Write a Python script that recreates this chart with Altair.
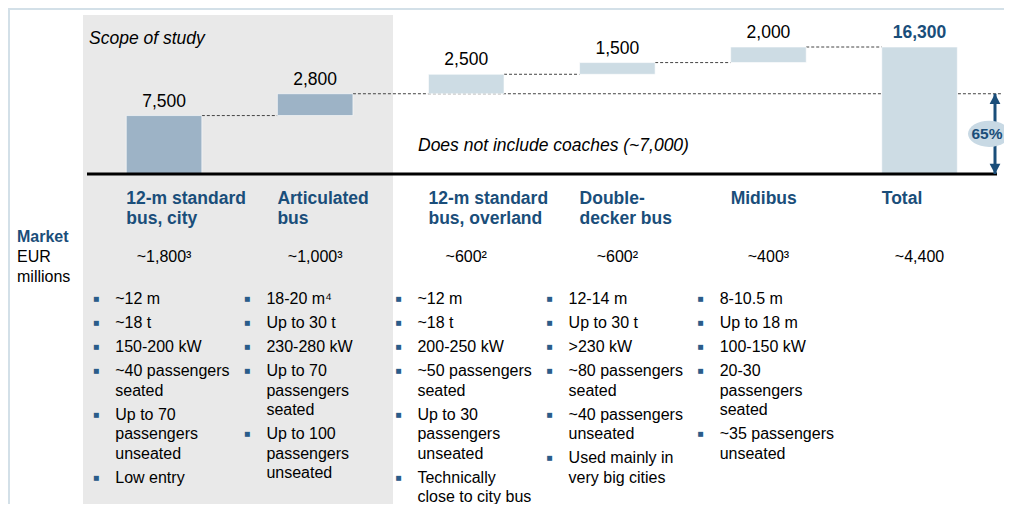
import altair as alt
import pandas as pd

# ---------------- data ----------------
categories = ["12-m standard bus, city", "Articulated bus", "12-m standard bus, overland",
              "Double-decker bus", "Midibus", "Total"]
header_lines = [["12-m standard", "bus, city"], ["Articulated", "bus"],
                ["12-m standard", "bus, overland"], ["Double-", "decker bus"],
                ["Midibus"], ["Total"]]
values = [7500, 2800, 2500, 1500, 2000, 16300]
value_labels = ["7,500", "2,800", "2,500", "1,500", "2,000", "16,300"]
in_scope = [True, True, False, False, False, False]
market_labels = ["~1,800³", "~1,000³", "~600²", "~600²", "~400³", "~4,400"]
market_title = ["Market", "EUR", "millions"]
bullets = [
    [["~12 m"], ["~18 t"], ["150-200 kW"], ["~40 passengers", "seated"],
     ["Up to 70", "passengers", "unseated"], ["Low entry"]],
    [["18-20 m⁴"], ["Up to 30 t"], ["230-280 kW"], ["Up to 70", "passengers", "seated"],
     ["Up to 100", "passengers", "unseated"]],
    [["~12 m"], ["~18 t"], ["200-250 kW"], ["~50 passengers", "seated"],
     ["Up to 30", "passengers", "unseated"], ["Technically", "close to city bus"]],
    [["12-14 m"], ["Up to 30 t"], [">230 kW"], ["~80 passengers", "seated"],
     ["~40 passengers", "unseated"], ["Used mainly in", "very big cities"]],
    [["8-10.5 m"], ["Up to 18 m"], ["100-150 kW"], ["20-30", "passengers", "seated"],
     ["~35 passengers", "unseated"]],
    [],
]
scope_note = "Scope of study"
coach_note = "Does not include coaches (~7,000)"
share_label = "65%"

# ---------------- style / layout ----------------
W, H = 996, 496
FONT = "Liberation Sans"
NAVY = "#1A4E7A"
DARK_BAR = "#9DB3C6"
LIGHT_BAR = "#CDDCE4"
GRAY_BG = "#E9E9E9"
FRAME = "#D3E0E8"
ELLIPSE = "#C8D9E4"

BASE_Y, TOP_Y = 166, 39
HEAD_TOP, HEAD_LH = 190.5, 20.5
MARKET_Y = 249
BULLET_TOP, LINE_H, BULLET_GAP = 291, 19.5, 24

total = values[-1]
value_scale = alt.Scale(domain=[0, total], range=[BASE_Y, TOP_Y])
layout_scale = alt.Scale(domain=[0, H], range=[0, H])
x_scale = alt.Scale(type="band", domain=categories, range=[80.5, 987.1],
                    paddingInner=0.5, paddingOuter=0.25)


def X(field="cat", band=0.5):
    return alt.X(f"{field}:N", scale=x_scale, axis=None, bandPosition=band)


# waterfall table
rows = []
cum = 0
for i, (c, v) in enumerate(zip(categories, values)):
    if c == "Total":
        s, e = 0, v
    else:
        s, e = cum, cum + v
        cum = e
    rows.append(dict(cat=c, start=s, end=e, label=value_labels[i],
                     group="scope" if in_scope[i] else ("total" if c == "Total" else "out")))
wf = pd.DataFrame(rows)

conn = pd.DataFrame([dict(cat=categories[i], nxt=categories[i + 1], level=wf["end"][i])
                     for i in range(len(categories) - 1) if i != 1])
scope_level = wf["end"][1]
long_conn = pd.DataFrame([dict(cat=categories[1], level=scope_level)])

# header rows
hdr = pd.DataFrame([dict(cat=c, text=t, y=HEAD_TOP + k * HEAD_LH)
                    for c, lines in zip(categories, header_lines) for k, t in enumerate(lines)])
mkt = pd.DataFrame(dict(cat=categories, text=market_labels, y=MARKET_Y))

# bullet rows
brows = []
for c, blist in zip(categories, bullets):
    y = BULLET_TOP
    for b in blist:
        for li, line in enumerate(b):
            brows.append(dict(cat=c, text=line, y=y + li * LINE_H, first=li == 0))
        y += BULLET_GAP + (len(b) - 1) * LINE_H
bl = pd.DataFrame(brows)
bl_first = bl[bl["first"]]

one = pd.DataFrame([{"a": 0}])
arrow = pd.DataFrame([dict(top=scope_level, bot=0, mid=scope_level / 2)])

# ---------------- layers ----------------
frame_top = alt.Chart(one).mark_rule(color=FRAME, strokeWidth=2).encode(
    x=alt.value(0), x2=alt.value(W), y=alt.value(1))
frame_left = alt.Chart(one).mark_rule(color=FRAME, strokeWidth=2).encode(
    x=alt.value(1), y=alt.value(0), y2=alt.value(H))
gray = alt.Chart(one).mark_rect(color=GRAY_BG).encode(
    x=alt.value(75), x2=alt.value(385), y=alt.value(7), y2=alt.value(H))

dash = dict(color="#444444", strokeDash=[3, 2], strokeWidth=1)
conn_layer = alt.Chart(conn).mark_rule(**dash).encode(
    x=X("cat", 1), x2=alt.X2("nxt:N", bandPosition=0),
    y=alt.Y("level:Q", scale=value_scale, axis=None))
long_layer = alt.Chart(long_conn).mark_rule(**dash).encode(
    x=X("cat", 1), x2=alt.value(994),
    y=alt.Y("level:Q", scale=value_scale, axis=None))

bars = alt.Chart(wf).mark_bar(stroke="white", strokeWidth=0.6).encode(
    x=X("cat"),
    y=alt.Y("start:Q", scale=value_scale, axis=None),
    y2="end:Q",
    color=alt.Color("group:N", scale=alt.Scale(domain=["scope", "out", "total"],
                                               range=[DARK_BAR, LIGHT_BAR, LIGHT_BAR]),
                    legend=None))

labels = alt.Chart(wf[wf["group"] != "total"]).mark_text(
    font=FONT, fontSize=17.5, color="#000000", baseline="middle", dy=-14).encode(
    x=X("cat"), y=alt.Y("end:Q", scale=value_scale, axis=None), text="label:N")
total_label = alt.Chart(wf[wf["group"] == "total"]).mark_text(
    font=FONT, fontSize=17.5, fontWeight="bold", color=NAVY, baseline="middle", dy=-14).encode(
    x=X("cat"), y=alt.Y("end:Q", scale=value_scale, axis=None), text="label:N")

baseline = alt.Chart(one).mark_rule(color="#000000", strokeWidth=3).encode(
    x=alt.value(79), x2=alt.value(989),
    y=alt.Y("a:Q", scale=value_scale, axis=None))

scope_txt = alt.Chart(one).mark_text(
    font=FONT, fontSize=17.5, fontStyle="italic", align="left", baseline="middle",
    text=scope_note).encode(x=alt.value(81), y=alt.value(31))
coach_txt = alt.Chart(one).mark_text(
    font=FONT, fontSize=17.5, fontStyle="italic", align="left", baseline="middle",
    text=coach_note).encode(x=alt.value(410), y=alt.value(138))

shaft = alt.Chart(arrow).mark_rule(color=NAVY, strokeWidth=3).encode(
    x=alt.value(987), y=alt.Y("top:Q", scale=value_scale, axis=None), y2="bot:Q")
head_up = alt.Chart(arrow).mark_point(
    shape="M0,0L0.9,1.7L-0.9,1.7Z", size=144, filled=True, color=NAVY, opacity=1).encode(
    x=alt.value(987), y=alt.Y("top:Q", scale=value_scale, axis=None))
head_dn = alt.Chart(arrow).mark_point(
    shape="M0,0L0.9,-1.7L-0.9,-1.7Z", size=144, filled=True, color=NAVY, opacity=1).encode(
    x=alt.value(987), y=alt.Y("bot:Q", scale=value_scale, axis=None))
ell = alt.Chart(arrow).mark_point(
    shape="M-1,0A1,0.62 0 1,0 1,0A1,0.62 0 1,0 -1,0Z", size=1764, filled=True,
    color=ELLIPSE, opacity=1).encode(
    x=alt.value(981), y=alt.Y("mid:Q", scale=value_scale, axis=None))
share = alt.Chart(arrow).mark_text(
    font=FONT, fontSize=15.5, fontWeight="bold", color=NAVY, baseline="middle",
    text=share_label).encode(
    x=alt.value(979), y=alt.Y("mid:Q", scale=value_scale, axis=None))

headers = alt.Chart(hdr).mark_text(
    font=FONT, fontSize=17.5, fontWeight="bold", color=NAVY, align="left", baseline="middle").encode(
    x=X("cat", 0), y=alt.Y("y:Q", scale=layout_scale, axis=None), text="text:N")
market_vals = alt.Chart(mkt).mark_text(
    font=FONT, fontSize=16, color="#000000", baseline="middle").encode(
    x=X("cat"), y=alt.Y("y:Q", scale=layout_scale, axis=None), text="text:N")

mt = pd.DataFrame(dict(text=market_title, y=[MARKET_Y - 20, MARKET_Y, MARKET_Y + 19.5],
                       bold=[True, False, False]))
market_bold = alt.Chart(mt[mt["bold"]]).mark_text(
    font=FONT, fontSize=16, fontWeight="bold", color=NAVY, align="left", baseline="middle").encode(
    x=alt.value(9), y=alt.Y("y:Q", scale=layout_scale, axis=None), text="text:N")
market_reg = alt.Chart(mt[~mt["bold"]]).mark_text(
    font=FONT, fontSize=16, color="#000000", align="left", baseline="middle").encode(
    x=alt.value(9), y=alt.Y("y:Q", scale=layout_scale, axis=None), text="text:N")

bullet_text = alt.Chart(bl).mark_text(
    font=FONT, fontSize=16, color="#000000", align="left", baseline="middle", dx=-11).encode(
    x=X("cat", 0), y=alt.Y("y:Q", scale=layout_scale, axis=None), text="text:N")
bullet_sq = alt.Chart(bl_first).mark_text(
    font="DejaVu Sans", fontSize=6.5, color="#2A5C8A", baseline="middle", dx=-30, text="■").encode(
    x=X("cat", 0), y=alt.Y("y:Q", scale=layout_scale, axis=None))

chart = alt.layer(
    gray, frame_top, frame_left, long_layer, conn_layer, bars, baseline, labels, total_label,
    scope_txt, coach_txt, shaft, head_up, head_dn, ell, share,
    headers, market_vals, market_bold, market_reg, bullet_text, bullet_sq
).resolve_scale(y="independent", color="independent").properties(
    width=W, height=H, padding=0, autosize=alt.AutoSizeParams(type="none"),
    background="white"
).configure_view(stroke=None)

chart.save("out.html", embed_options={"renderer": "svg", "actions": False})
